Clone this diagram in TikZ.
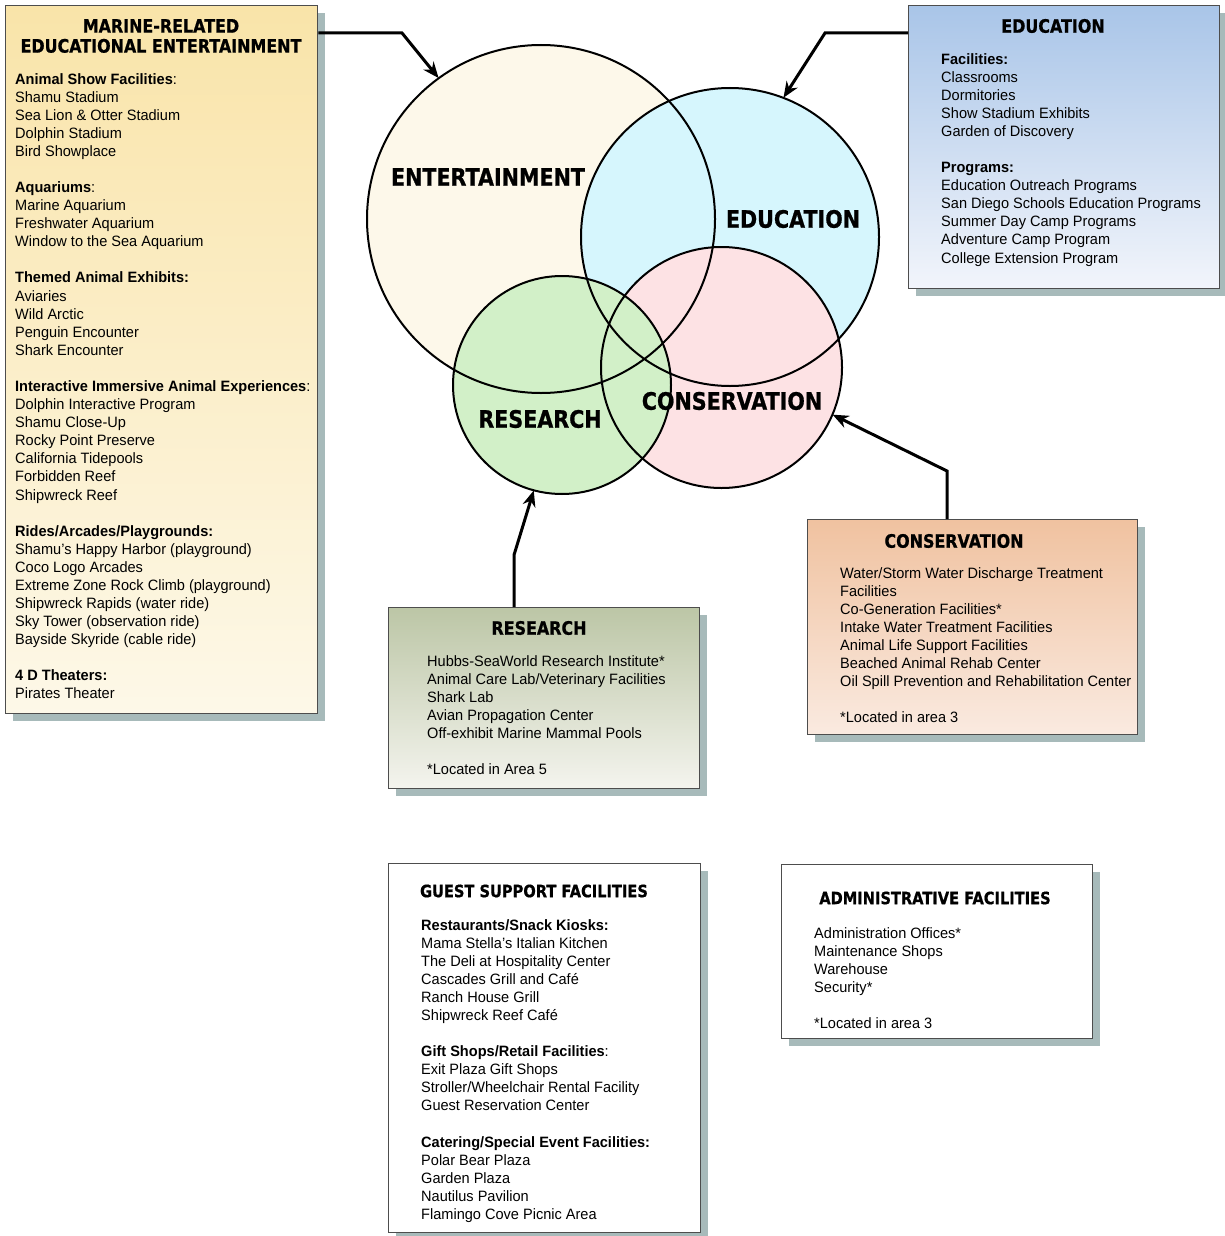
\documentclass[tikz,border=0pt]{standalone}
\usepackage{fontspec}
\setmainfont{Liberation Sans}[FakeStretch=0.97]
\newfontfamily\headfont{DejaVu Sans}[FakeStretch=0.86, BoldFeatures={FakeBold=0.8}]
\usetikzlibrary{arrows.meta, shadows}

\definecolor{entfill}{HTML}{FDF8EA}
\definecolor{edufill}{HTML}{D6F6FD}
\definecolor{consfill}{HTML}{FDE2E4}
\definecolor{resfill}{HTML}{D2F0C8}
\definecolor{shadowcol}{HTML}{A7BABA}
\definecolor{boxline}{HTML}{4D4D4D}
\definecolor{enttop}{HTML}{F9E4A9}
\definecolor{entbot}{HTML}{FDF8E8}
\definecolor{edutop}{HTML}{A9C5E8}
\definecolor{edubot}{HTML}{F2F5FB}
\definecolor{restop}{HTML}{BCC6A6}
\definecolor{resbot}{HTML}{F4F4EE}
\definecolor{constop}{HTML}{F0C2A0}
\definecolor{consbot}{HTML}{FAEAE0}

\newcommand{\bodyfont}{\fontsize{15}{18.1}\selectfont}
\newcommand{\boxhead}{\headfont\bfseries\fontsize{18.5}{20}\selectfont}
\newcommand{\smallhead}{\headfont\bfseries\fontsize{17}{20}\selectfont}
\newcommand{\circhead}{\headfont\bfseries\fontsize{24}{28}\selectfont}

\begin{document}
\begin{tikzpicture}[x=1pt, y=-1pt, >=Stealth,
    box/.style={draw=boxline, line width=1.4pt, anchor=north west, inner sep=0pt,
      drop shadow={shadow xshift=7pt, shadow yshift=-7pt, fill=shadowcol, opacity=1}},
    venn/.style={circle, fill=#1, inner sep=0pt},
    body/.style={anchor=north west, align=left, inner sep=0pt, font=\bodyfont},
    boxtitle/.style={align=center, inner sep=0pt, font=\boxhead},
    circtitle/.style={inner sep=0pt, font=\circhead},
    arr/.style={-{Stealth[length=16pt, width=13pt]}, line width=3pt}]

    \path[use as bounding box, fill=white] (0,0) rectangle (1225,1236);

    % Draw boxes
    \node (entbox) [box, top color=enttop, bottom color=entbot, minimum width=312pt, minimum height=708pt] at (5,5) {};
    \node (edubox) [box, top color=edutop, bottom color=edubot, minimum width=311pt, minimum height=283pt] at (908,5) {};
    \node (resbox) [box, top color=restop, bottom color=resbot, minimum width=311pt, minimum height=181pt] at (388,607) {};
    \node (consbox) [box, top color=constop, bottom color=consbot, minimum width=330pt, minimum height=215pt] at (807,519) {};
    \node (guestbox) [box, fill=white, minimum width=312pt, minimum height=369pt] at (388,863) {};
    \node (adminbox) [box, fill=white, minimum width=311pt, minimum height=174pt] at (781,864) {};

    % Box texts
    \node (enthead) [boxtitle] at (161,36) {MARINE-RELATED\\EDUCATIONAL ENTERTAINMENT};
    \node (enttext) [body] at (15,73) {\textbf{Animal Show Facilities}:\\
      Shamu Stadium\\
      Sea Lion \& Otter Stadium\\
      Dolphin Stadium\\
      Bird Showplace\\[18pt]
      \textbf{Aquariums}:\\
      Marine Aquarium\\
      Freshwater Aquarium\\
      Window to the Sea Aquarium\\[18pt]
      \textbf{Themed Animal Exhibits:}\\
      Aviaries\\
      Wild Arctic\\
      Penguin Encounter\\
      Shark Encounter\\[18pt]
      \textbf{Interactive Immersive Animal Experiences}:\\
      Dolphin Interactive Program\\
      Shamu Close-Up\\
      Rocky Point Preserve\\
      California Tidepools\\
      Forbidden Reef\\
      Shipwreck Reef\\[18pt]
      \textbf{Rides/Arcades/Playgrounds:}\\
      Shamu's Happy Harbor (playground)\\
      Coco Logo Arcades\\
      Extreme Zone Rock Climb (playground)\\
      Shipwreck Rapids (water ride)\\
      Sky Tower (observation ride)\\
      Bayside Skyride (cable ride)\\[18pt]
      \textbf{4 D Theaters:}\\
      Pirates Theater};

    \node (eduhead) [boxtitle] at (1053,26) {EDUCATION};
    \node (edutext) [body] at (941,53) {\textbf{Facilities:}\\
      Classrooms\\
      Dormitories\\
      Show Stadium Exhibits\\
      Garden of Discovery\\[18pt]
      \textbf{Programs:}\\
      Education Outreach Programs\\
      San Diego Schools Education Programs\\
      Summer Day Camp Programs\\
      Adventure Camp Program\\
      College Extension Program};

    \node (reshead) [boxtitle] at (539,628) {RESEARCH};
    \node (restext) [body] at (427,655) {Hubbs-SeaWorld Research Institute*\\
      Animal Care Lab/Veterinary Facilities\\
      Shark Lab\\
      Avian Propagation Center\\
      Off-exhibit Marine Mammal Pools\\[18pt]
      *Located in Area 5};

    \node (conshead) [boxtitle] at (954,541) {CONSERVATION};
    \node (constext) [body] at (840,567) {Water/Storm Water Discharge Treatment\\
      Facilities\\
      Co-Generation Facilities*\\
      Intake Water Treatment Facilities\\
      Animal Life Support Facilities\\
      Beached Animal Rehab Center\\
      Oil Spill Prevention and Rehabilitation Center\\[18pt]
      *Located in area 3};

    \node (guesthead) [boxtitle, font=\smallhead] at (534,891) {GUEST SUPPORT FACILITIES};
    \node (guesttext) [body] at (421,919) {\textbf{Restaurants/Snack Kiosks:}\\
      Mama Stella's Italian Kitchen\\
      The Deli at Hospitality Center\\
      Cascades Grill and Café\\
      Ranch House Grill\\
      Shipwreck Reef Café\\[18pt]
      \textbf{Gift Shops/Retail Facilities}:\\
      Exit Plaza Gift Shops\\
      Stroller/Wheelchair Rental Facility\\
      Guest Reservation Center\\[18pt]
      \textbf{Catering/Special Event Facilities:}\\
      Polar Bear Plaza\\
      Garden Plaza\\
      Nautilus Pavilion\\
      Flamingo Cove Picnic Area};

    \node (adminhead) [boxtitle, font=\smallhead] at (935,898) {ADMINISTRATIVE FACILITIES};
    \node (admintext) [body] at (814,927) {Administration Offices*\\
      Maintenance Shops\\
      Warehouse\\
      Security*\\[18pt]
      *Located in area 3};

    % Draw circles
    \node (entc) [venn=entfill, minimum size=348pt] at (541,219) {};
    \node (educ) [venn=edufill, minimum size=298pt] at (730,237) {};
    \node (consc) [venn=consfill, minimum size=241pt] at (721.5,367.5) {};
    \node (resc) [venn=resfill, minimum size=218pt] at (562,385) {};
    \foreach \c/\r in {entc/174, educ/149, consc/120.5, resc/109}
      \draw[line width=2pt] (\c.center) circle[radius=\r];

    \node (entlabel) [circtitle] at (488,177) {ENTERTAINMENT};
    \node (edulabel) [circtitle] at (793,219) {EDUCATION};
    \node (conslabel) [circtitle] at (732,401) {CONSERVATION};
    \node (reslabel) [circtitle] at (540,419) {RESEARCH};

    % Draw arrows
    \coordinate (b1) at (402,33);
    \coordinate (b2) at (825,33);
    \coordinate (b3) at (514,555);
    \coordinate (b4) at (947,471);
    \draw[arr] (entbox.north east |- b1) -- (b1) -- (entc.126);
    \draw[arr] (edubox.north west |- b2) -- (b2) -- (educ.69);
    \draw[arr] (resbox.north west -| b3) -- (b3) -- (resc.255);
    \draw[arr] (consbox.north west -| b4) -- (b4) -- (consc.-23);

\end{tikzpicture}
\end{document}
